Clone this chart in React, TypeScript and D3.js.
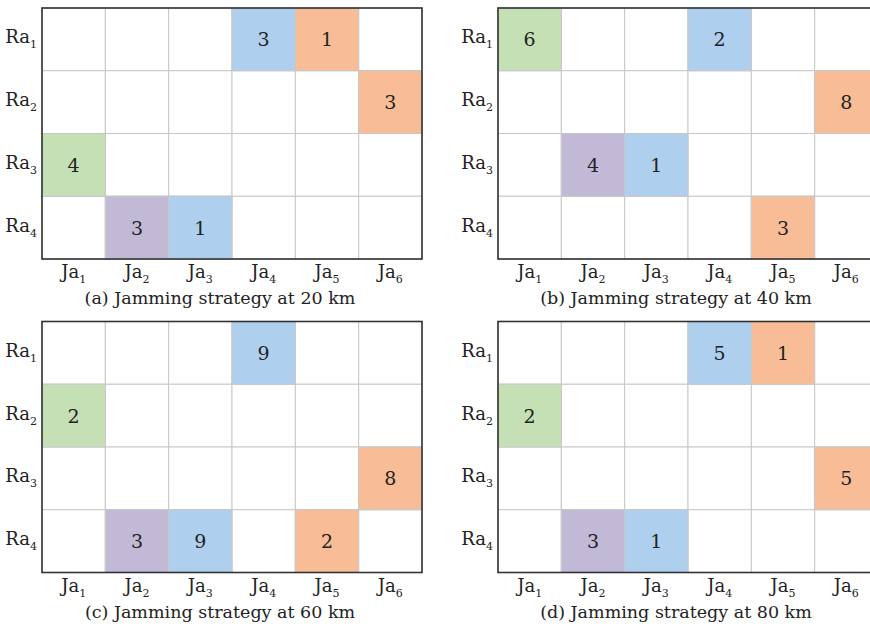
import React from "react";
import * as d3 from "d3";

const radarIds = ["1", "2", "3", "4"];
const jammerIds = ["1", "2", "3", "4", "5", "6"];
const captions = [
  "(a) Jamming strategy at 20 km",
  "(b) Jamming strategy at 40 km",
  "(c) Jamming strategy at 60 km",
  "(d) Jamming strategy at 80 km",
];
// [radarIndex, jammerIndex, value]
const cells20km: [number, number, number][] = [
  [0, 3, 3], [0, 4, 1], [1, 5, 3], [2, 0, 4], [3, 1, 3], [3, 2, 1],
];
const cells40km: [number, number, number][] = [
  [0, 0, 6], [0, 3, 2], [1, 5, 8], [2, 1, 4], [2, 2, 1], [3, 4, 3],
];
const cells60km: [number, number, number][] = [
  [0, 3, 9], [1, 0, 2], [2, 5, 8], [3, 1, 3], [3, 2, 9], [3, 4, 2],
];
const cells80km: [number, number, number][] = [
  [0, 3, 5], [0, 4, 1], [1, 0, 2], [2, 5, 5], [3, 1, 3], [3, 2, 1],
];
const jammerColors = ["#c5e0b4", "#c1b9d6", "#aecfee", "#aecfee", "#f8bd96", "#f8bd96"];

const panels = [cells20km, cells40km, cells60km, cells80km];
const W = 870, H = 626;
const panelW = 380, panelH = 251;
const origins = [[42, 8], [498, 8], [42, 321.5], [498, 321.5]];
const FONT = "DejaVu Serif";

function Panel({ cells, caption, ox, oy }: { cells: [number, number, number][]; caption: string; ox: number; oy: number }) {
  const x = d3.scaleBand<string>().domain(jammerIds).range([0, panelW]);
  const y = d3.scaleBand<string>().domain(radarIds).range([0, panelH]);
  return (
    <g transform={`translate(${ox},${oy})`}>
      {radarIds.map((r) =>
        jammerIds.map((j) => (
          <rect key={r + j} x={x(j)} y={y(r)} width={x.bandwidth()} height={y.bandwidth()} fill="#fff" stroke="#c8c8c8" strokeWidth={1} />
        ))
      )}
      {cells.map(([ri, ji, v]) => (
        <g key={`${ri}-${ji}`}>
          <rect x={x(jammerIds[ji])} y={y(radarIds[ri])} width={x.bandwidth()} height={y.bandwidth()} fill={jammerColors[ji]} stroke="#c8c8c8" strokeWidth={1} />
          <text x={(x(jammerIds[ji]) as number) + x.bandwidth() / 2} y={(y(radarIds[ri]) as number) + y.bandwidth() / 2 + 7} textAnchor="middle" fontSize={19} fontFamily={FONT} fill="#222">{v}</text>
        </g>
      ))}
      <rect x={0} y={0} width={panelW} height={panelH} fill="none" stroke="#333" strokeWidth={1.6} />
      {radarIds.map((r) => (
        <text key={r} x={-5} y={(y(r) as number) + y.bandwidth() / 2 + 4} textAnchor="end" fontSize={18} fontFamily={FONT} fill="#222">
          Ra<tspan fontSize={11} dy={5}>{r}</tspan>
        </text>
      ))}
      {jammerIds.map((j) => (
        <text key={j} x={(x(j) as number) + x.bandwidth() / 2} y={panelH + 19} textAnchor="middle" fontSize={18} fontFamily={FONT} fill="#222">
          Ja<tspan fontSize={11} dy={5}>{j}</tspan>
        </text>
      ))}
      <text x={panelW / 2 - 12} y={panelH + 45} textAnchor="middle" fontSize={17.5} fontFamily={FONT} fill="#222">{caption}</text>
    </g>
  );
}

export default function App() {
  return (
    <div style={{ position: "absolute", left: 0, top: 0 }}>
      <svg width={W} height={H} style={{ display: "block", background: "#fff" }}>
        {panels.map((cells, i) => (
          <Panel key={i} cells={cells} caption={captions[i]} ox={origins[i][0]} oy={origins[i][1]} />
        ))}
      </svg>
    </div>
  );
}
